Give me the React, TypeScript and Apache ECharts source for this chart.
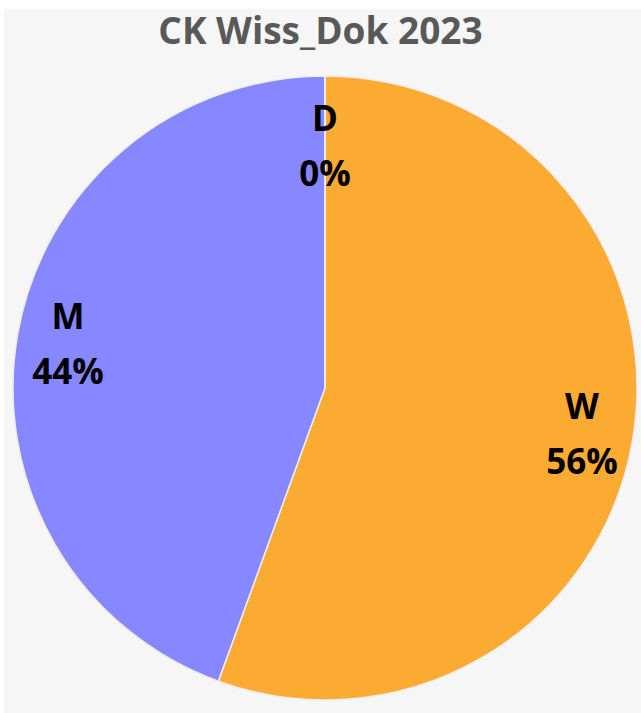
import React, { useEffect, useRef } from "react";
import * as echarts from "echarts";

const titleText = "CK Wiss_Dok 2023";
const categories = ["W", "M", "D"];
const values = [5, 4, 0];
const colors = ["#FBAA32", "#8787FF", "#E0E0E0"];

export default function App() {
  const ref = useRef<HTMLDivElement>(null);
  useEffect(() => {
    document.body.style.margin = "0";
    const chart = echarts.init(ref.current!, null, { renderer: "svg" });
    const data = categories.map((c, i) => ({
      name: c,
      value: values[i],
      itemStyle: { color: colors[i] },
    }));
    chart.setOption({
      animation: false,
      backgroundColor: "#ffffff",
      graphic: [
        {
          type: "rect",
          z: -10,
          silent: true,
          shape: { x: 4, y: 9, width: 641, height: 713 },
          style: { fill: "#f6f6f6" },
        },
      ],
      title: {
        text: titleText,
        left: "center",
        top: 6,
        textStyle: {
          fontFamily: "Open Sans",
          fontWeight: "bold",
          fontSize: 37,
          color: "#595959",
        },
      },
      series: [
        {
          type: "pie",
          center: [325, 388],
          radius: [0, 312],
          startAngle: 90,
          clockwise: true,
          label: { show: false },
          labelLine: { show: false },
          itemStyle: { borderColor: "#ededf2", borderWidth: 1.5 },
          emphasis: { disabled: true },
          data,
        },
        {
          type: "pie",
          center: [325, 388],
          radius: [204, 312],
          startAngle: 90,
          clockwise: true,
          silent: true,
          percentPrecision: 0,
          itemStyle: { color: "transparent", borderWidth: 0 },
          label: {
            show: true,
            position: "inside",
            formatter: "{b}\n{d}%",
            fontFamily: "Open Sans",
            fontWeight: "bold",
            fontSize: 35,
            lineHeight: 55,
            color: "#000000",
            align: "center",
          },
          labelLayout: (p: any) => (p.dataIndex === 2 ? { dy: 18 } : {}),
          labelLine: { show: false },
          emphasis: { disabled: true },
          data: categories.map((c, i) => ({ name: c, value: values[i] })),
        },
      ],
    });
    return () => chart.dispose();
  }, []);
  return <div ref={ref} style={{ width: 641, height: 713 }} />;
}
